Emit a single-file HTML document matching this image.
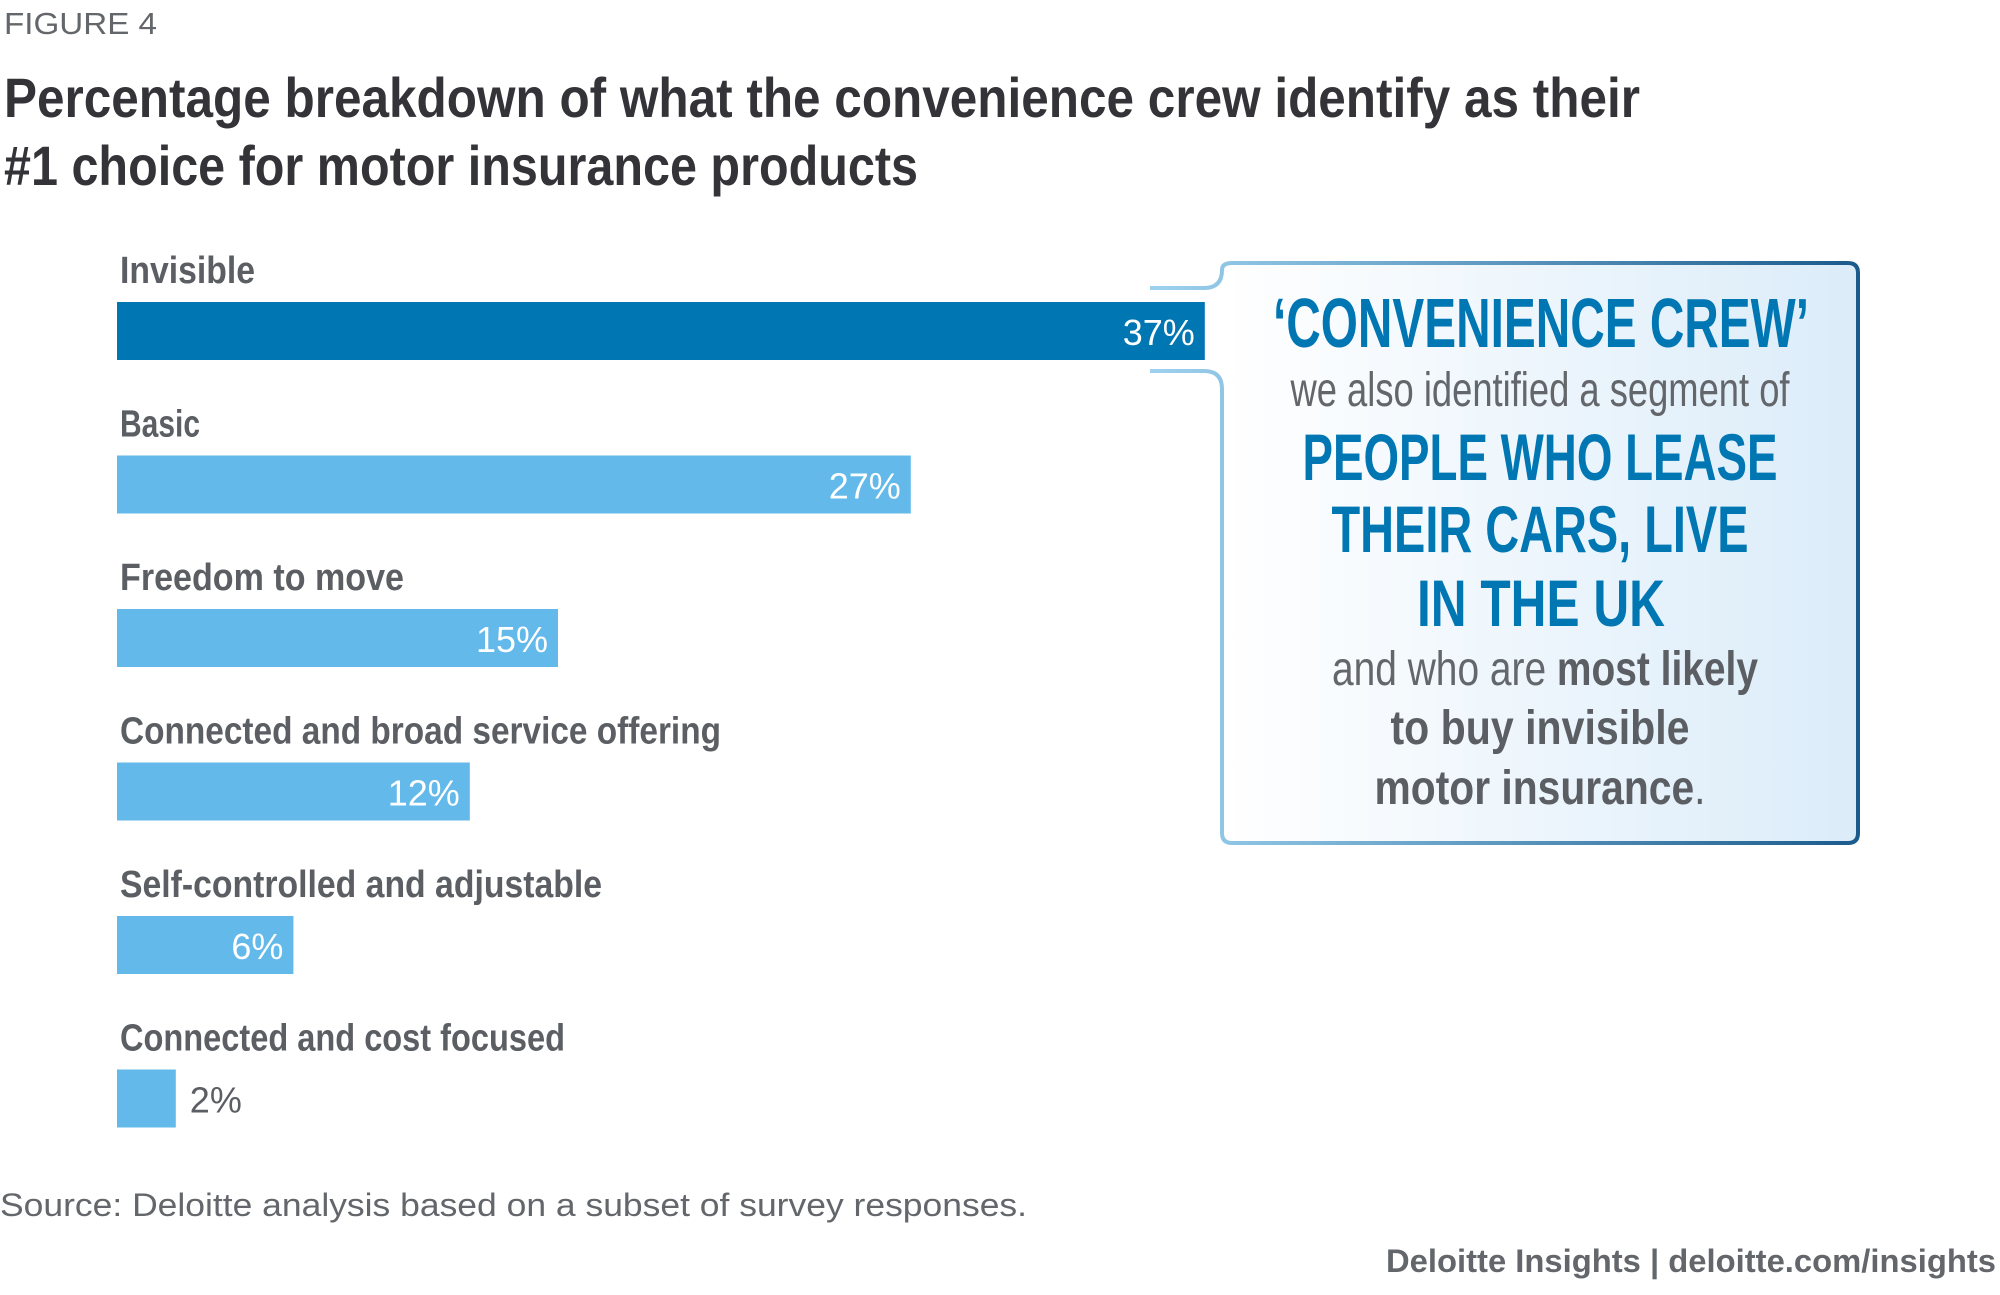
<!DOCTYPE html>
<html><head><meta charset="utf-8"><style>
html,body{margin:0;padding:0;background:#fff;width:2000px;height:1295px;overflow:hidden}
svg text{font-family:"Liberation Sans",sans-serif}
</style></head><body>
<svg id="chart" width="2000" height="1295" viewBox="0 0 2000 1295" xmlns="http://www.w3.org/2000/svg">
<defs>
<linearGradient id="boxFill" x1="0" x2="1" y1="0" y2="0"><stop offset="0" stop-color="#ffffff"/><stop offset="1" stop-color="#dbecf9"/></linearGradient>
<linearGradient id="boxStroke" x1="0" x2="1" y1="0" y2="0"><stop offset="0" stop-color="#9dd2ef"/><stop offset="1" stop-color="#1b5b8c"/></linearGradient>
</defs>
<text x="4" y="34" font-size="31" fill="#63666a" textLength="153" lengthAdjust="spacingAndGlyphs">FIGURE 4</text>
<text x="4" y="117" font-size="56" font-weight="bold" fill="#333338" textLength="1636" lengthAdjust="spacingAndGlyphs">Percentage breakdown of what the convenience crew identify as their</text>
<text x="4" y="185" font-size="56" font-weight="bold" fill="#333338" textLength="914" lengthAdjust="spacingAndGlyphs">#1 choice for motor insurance products</text>

<g>
<rect x="1222" y="263" width="636" height="580" rx="10" fill="url(#boxFill)"/>
<path d="M1150,288 H1204 Q1222,288 1222,270 Q1222,263 1232,263 H1848 Q1858,263 1858,273 V833 Q1858,843 1848,843 H1232 Q1222,843 1222,833 V389 Q1222,371 1204,371 H1150" fill="none" stroke="url(#boxStroke)" stroke-width="4"/>
<g text-anchor="middle">
<text x="1541" y="347" font-size="70" font-weight="bold" fill="#0076b3" textLength="536" lengthAdjust="spacingAndGlyphs">‘CONVENIENCE CREW’</text>
<text x="1540" y="406" font-size="48" fill="#63666a" textLength="499" lengthAdjust="spacingAndGlyphs">we also identified a segment of</text>
<text x="1540" y="480" font-size="66" font-weight="bold" fill="#0076b3" textLength="475" lengthAdjust="spacingAndGlyphs">PEOPLE WHO LEASE</text>
<text x="1540" y="552" font-size="66" font-weight="bold" fill="#0076b3" textLength="417" lengthAdjust="spacingAndGlyphs">THEIR CARS, LIVE</text>
<text x="1541" y="626" font-size="66" font-weight="bold" fill="#0076b3" textLength="248" lengthAdjust="spacingAndGlyphs">IN THE UK</text>
<text x="1545" y="685" font-size="48" fill="#63666a" textLength="426" lengthAdjust="spacingAndGlyphs">and who are <tspan font-weight="bold" fill="#5b5e63">most likely</tspan></text>
<text x="1540" y="744" font-size="48" font-weight="bold" fill="#5b5e63" textLength="299" lengthAdjust="spacingAndGlyphs">to buy invisible</text>
<text x="1540" y="804" font-size="48" font-weight="bold" fill="#5b5e63" textLength="331" lengthAdjust="spacingAndGlyphs">motor insurance<tspan font-weight="normal">.</tspan></text>
</g>
</g>

<g id="bars"></g>

<text x="0" y="1216" font-size="32" fill="#63666a" textLength="1027" lengthAdjust="spacingAndGlyphs">Source: Deloitte analysis based on a subset of survey responses.</text>
<text x="1386" y="1272" font-size="32" font-weight="bold" fill="#63666a" textLength="610" lengthAdjust="spacingAndGlyphs">Deloitte Insights | deloitte.com/insights</text>
</svg>
<script>
const categories = ["Invisible","Basic","Freedom to move","Connected and broad service offering","Self-controlled and adjustable","Connected and cost focused"];
const values = [37,27,15,12,6,2];
const valueLabels = ["37%","27%","15%","12%","6%","2%"];
const labelWidths = [135,80,284,601,482,445];

const NS = "http://www.w3.org/2000/svg";
const x0 = 117, pxPerPct = 29.4;
function xScale(v){ return x0 + v * pxPerPct; }
function yScale(i){ return 302 + i * 153.5; }
const g = document.getElementById('bars');
categories.forEach((c, i) => {
  const y = yScale(i);
  const lab = document.createElementNS(NS, 'text');
  
  
  lab.setAttribute('x', 120); lab.setAttribute('y', y - 19);
  lab.setAttribute('font-size', '38'); lab.setAttribute('font-weight', 'bold');
  lab.setAttribute('fill', '#5b5e63');
  lab.setAttribute('textLength', labelWidths[i]); lab.setAttribute('lengthAdjust', 'spacingAndGlyphs');
  lab.textContent = c; g.appendChild(lab);
  const r = document.createElementNS(NS, 'rect');
  
  
  r.setAttribute('x', x0); r.setAttribute('y', y);
  r.setAttribute('width', xScale(values[i]) - x0); r.setAttribute('height', 58);
  r.setAttribute('fill', i === 0 ? '#0076b3' : '#62b9ea');
  g.appendChild(r);
  const t = document.createElementNS(NS, 'text');
  
  
  const inside = values[i] >= 5;
  t.setAttribute('x', inside ? xScale(values[i]) - 10 : xScale(values[i]) + 14);
  t.setAttribute('y', y + 43);
  t.setAttribute('font-size', '36');
  t.setAttribute('text-anchor', inside ? 'end' : 'start');
  t.setAttribute('fill', inside ? '#ffffff' : '#5b5e63');
  t.textContent = valueLabels[i]; g.appendChild(t);
});
</script>
</body></html>
